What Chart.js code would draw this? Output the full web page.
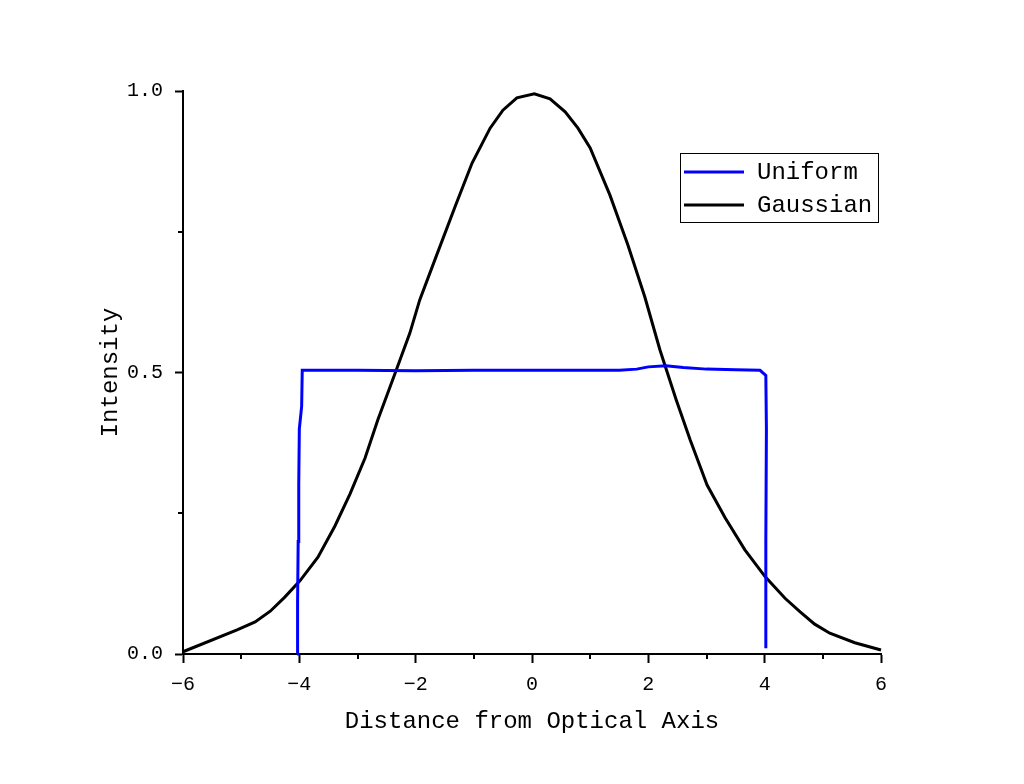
<!DOCTYPE html>
<html>
<head>
<meta charset="utf-8">
<script src="https://cdn.jsdelivr.net/npm/chart.js@4/dist/chart.umd.min.js"></script>
<style>
  html, body { margin: 0; padding: 0; background: #fff; }
  canvas { display: block; }
</style>
</head>
<body>
<canvas id="chart" width="1024" height="784"></canvas>
<script>
// Data
const gaussX = [-6.0, -5.07, -4.76, -4.50, -4.25, -3.99, -3.68, -3.39, -3.13, -2.87, -2.65, -2.36, -2.10, -1.93, -1.67, -1.31, -1.03, -0.72, -0.50, -0.26, 0.04, 0.31, 0.57, 0.79, 1.00, 1.34, 1.65, 1.94, 2.20, 2.48, 2.72, 3.01, 3.32, 3.66, 4.01, 4.35, 4.61, 4.86, 5.12, 5.55, 6.0];
const gaussY = [0.004, 0.043, 0.057, 0.076, 0.101, 0.130, 0.172, 0.227, 0.284, 0.348, 0.416, 0.497, 0.570, 0.629, 0.700, 0.798, 0.872, 0.934, 0.966, 0.988, 0.995, 0.986, 0.963, 0.934, 0.899, 0.815, 0.726, 0.634, 0.540, 0.451, 0.380, 0.300, 0.242, 0.185, 0.137, 0.099, 0.075, 0.053, 0.037, 0.020, 0.007];
const uniX = [-4.04, -4.03, -4.02, -4.01, -4.00, -3.96, -3.95, -3.0, -2.0, -1.0, 0.0, 1.0, 1.5, 1.8, 2.0, 2.3, 2.6, 3.0, 3.5, 3.92, 4.02, 4.03, 4.02, 4.02, 4.02];
const uniY = [0.0, 0.09, 0.20, 0.30, 0.40, 0.44, 0.504, 0.504, 0.503, 0.504, 0.504, 0.504, 0.504, 0.506, 0.510, 0.512, 0.509, 0.506, 0.505, 0.504, 0.495, 0.40, 0.20, 0.10, 0.01];
const xTicks = [-6, -4, -2, 0, 2, 4, 6];
const xMinor = [-5, -3, -1, 1, 3, 5];
const yTicks = [0, 0.5, 1.0];
const yMinor = [0.25, 0.75];

const tickFont = { family: "'Liberation Mono', monospace", size: 20 };
const titleFont = { family: "'Liberation Mono', monospace", size: 24 };

function toPoints(xs, ys) {
  return xs.map((x, i) => ({ x: x, y: ys[i] }));
}

// short minor ticks on both axes, placed through the scales
const minorTicks = {
  id: 'minorTicks',
  afterDraw(chart) {
    const ctx = chart.ctx;
    const xs = chart.scales.x, ys = chart.scales.y;
    ctx.save();
    ctx.strokeStyle = '#000';
    ctx.lineWidth = 2;
    ctx.beginPath();
    xMinor.forEach(v => {
      const px = Math.round(xs.getPixelForValue(v));
      ctx.moveTo(px, ys.bottom);
      ctx.lineTo(px, ys.bottom + 5);
    });
    yMinor.forEach(v => {
      const py = Math.round(ys.getPixelForValue(v));
      ctx.moveTo(xs.left, py);
      ctx.lineTo(xs.left - 5, py);
    });
    ctx.stroke();
    ctx.restore();
  }
};

// boxed legend in the upper right of the plot
const boxLegend = {
  id: 'boxLegend',
  afterDraw(chart) {
    const ctx = chart.ctx;
    const area = chart.chartArea;
    const right = area.right - 3;
    const left = right - 198;
    const top = area.top + 62;
    const rowH = 33;
    ctx.save();
    ctx.fillStyle = '#fff';
    ctx.fillRect(left, top, right - left, 69);
    ctx.strokeStyle = '#000';
    ctx.lineWidth = 1;
    ctx.strokeRect(left + 0.5, top + 0.5, right - left, 69);
    ctx.font = `${titleFont.size}px ${titleFont.family}`;
    ctx.textBaseline = 'middle';
    chart.data.datasets.forEach((ds, i) => {
      const y = top + 19 + i * rowH;
      ctx.strokeStyle = ds.borderColor;
      ctx.lineWidth = ds.borderWidth;
      ctx.beginPath();
      ctx.moveTo(left + 4, y);
      ctx.lineTo(left + 64, y);
      ctx.stroke();
      ctx.fillStyle = '#000';
      ctx.fillText(ds.label, left + 77, y + 1);
    });
    ctx.restore();
  }
};

new Chart(document.getElementById('chart'), {
  type: 'scatter',
  data: {
    datasets: [
      { label: 'Uniform', data: toPoints(uniX, uniY), showLine: true, borderColor: '#0000ff', borderWidth: 3, pointRadius: 0, tension: 0, fill: false, clip: false },
      { label: 'Gaussian', data: toPoints(gaussX, gaussY), showLine: true, borderColor: '#000000', borderWidth: 3, pointRadius: 0, tension: 0, fill: false, clip: false }
    ]
  },
  options: {
    responsive: false,
    animation: false,
    layout: { padding: { left: 96, top: 91, right: 143, bottom: 48 } },
    plugins: {
      legend: { display: false },
      tooltip: { enabled: false }
    },
    scales: {
      x: {
        type: 'linear',
        min: -6,
        max: 6,
        afterFit(scale) { scale.height = 82; },
        afterBuildTicks(scale) { scale.ticks = xTicks.map(v => ({ value: v })); },
        border: { display: true, color: '#000', width: 2 },
        grid: { drawOnChartArea: false, drawTicks: true, tickLength: 9, tickWidth: 2, tickColor: '#000' },
        ticks: {
          color: '#000',
          font: tickFont,
          padding: 10,
          maxRotation: 0,
          callback: v => (v < 0 ? '\u2212' + Math.abs(v) : String(v))
        },
        title: { display: true, text: 'Distance from Optical Axis', color: '#000', font: titleFont, padding: 0 }
      },
      y: {
        type: 'linear',
        min: 0,
        max: 1,
        afterFit(scale) { scale.width = 183 - 96; },
        afterBuildTicks(scale) { scale.ticks = yTicks.map(v => ({ value: v })); },
        border: { display: true, color: '#000', width: 2 },
        grid: { drawOnChartArea: false, drawTicks: true, tickLength: 8, tickWidth: 2, tickColor: '#000' },
        ticks: {
          color: '#000',
          font: tickFont,
          padding: 12,
          callback: v => Number(v).toFixed(1)
        },
        title: { display: true, text: 'Intensity', color: '#000', font: titleFont, padding: 0 }
      }
    }
  },
  plugins: [minorTicks, boxLegend]
});
</script>
</body>
</html>
